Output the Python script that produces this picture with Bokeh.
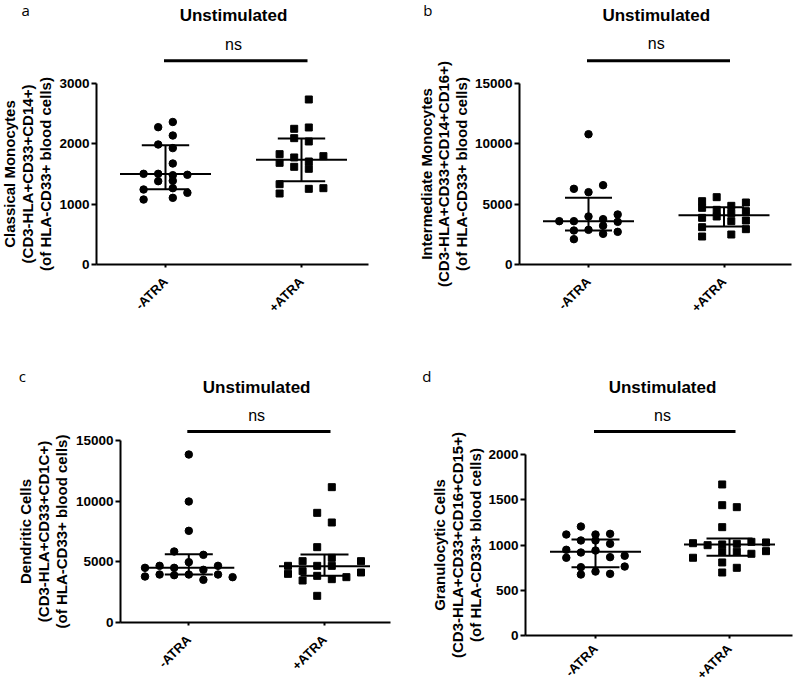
import math
from bokeh.plotting import figure
from bokeh.layouts import column, row
from bokeh.models import Range1d, FixedTicker
from bokeh.core.properties import value
from bokeh.embed import file_html
from bokeh.resources import INLINE

# ---------------- data ----------------
categories = ["-ATRA", "+ATRA"]
title_text = "Unstimulated"
sig_text = "ns"
panel_letters = ["a", "b", "c", "d"]

y_label_a = "Classical Monocytes\n(CD3-HLA+CD33+CD14+)\n(of HLA-CD33+ blood cells)"
y_label_b = "Intermediate Monocytes\n(CD3-HLA+CD33+CD14+CD16+)\n(of HLA-CD33+ blood cells)"
y_label_c = "Dendritic Cells\n(CD3-HLA+CD33+CD1C+)\n(of HLA-CD33+ blood cells)"
y_label_d = "Granulocytic Cells\n(CD3-HLA+CD33+CD16+CD15+)\n(of HLA-CD33+ blood cells)"

y_ticks_a = [0, 1000, 2000, 3000]
y_ticks_b = [0, 5000, 10000, 15000]
y_ticks_c = [0, 5000, 10000, 15000]
y_ticks_d = [0, 500, 1000, 1500, 2000]

# panel a: classical monocytes
a_minus = [2276, 2362, 2138, 1989, 1929, 1674, 1503, 1503, 1480, 1487, 1381, 1387, 1243, 1265, 1188, 1077, 1105]
a_minus_slot = [-0.5, 0.5, 0.5, -0.5, 0.5, 0.5, -1.5, -0.5, 0.5, 1.5, -0.5, 0.5, -1.5, 0.5, 1.5, -1.5, 0.5]
a_plus = [2735, 2249, 2271, 2094, 2039, 1829, 1774, 1796, 1685, 1619, 1707, 1586, 1331, 1177, 1254, 1265]
a_plus_slot = [0.5, -0.5, 0.5, -0.5, 0.5, -1.5, -0.5, 1.5, -1.5, -0.5, 0.5, 0.5, -1.5, -1.5, 0.5, 1.5]
a_median = [1500, 1735]
a_q1 = [1249, 1380]
a_q3 = [1978, 2090]

# panel b: intermediate monocytes
b_minus = [10798, 6271, 5994, 6575, 3591, 3591, 3978, 3757, 4144, 3536, 2818, 2873, 3204, 2541, 2707, 2100]
b_minus_slot = [0, -1, 0, 1, -2, -1, 0, 1, 2, 2, -1, 0, 1, 1, 2, -1]
b_plus = [5248, 5580, 4862, 5138, 4696, 4530, 4254, 4420, 3867, 3978, 3591, 3646, 3093, 2928, 2320, 2486]
b_plus_slot = [-1.5, -0.5, 0.5, 1.5, -1.5, -0.5, 0.5, 1.5, -1.5, -0.5, 0.5, 1.5, -1.5, 1.5, -1.5, 0.5]
b_median = [3591, 4088]
b_q1 = [2818, 3149]
b_q3 = [5525, 4751]

# panel c: dendritic cells
c_minus = [13846, 9973, 7555, 5852, 5577, 4973, 4505, 4670, 4505, 4340, 4670, 3791, 3956, 3901, 3956, 3516, 3956, 3736]
c_minus_slot = [0, 0, 0, -1, 1, 0, -3, -2, -1, 1, 2, -3, -2, -1, 0, 1, 2, 3]
c_plus = [11154, 9038, 8242, 6209, 5055, 5330, 5055, 4670, 4670, 4670, 4010, 4230, 3462, 3846, 3571, 3736, 4121, 2198]
c_plus_slot = [0.5, -0.5, 0.5, -0.5, -1.5, 0.5, 2.5, -2.5, -0.5, 0.5, -2.5, -1.5, -1.5, -0.5, 0.5, 1.5, 2.5, -0.5]
c_median = [4505, 4643]
c_q1 = [3956, 3846]
c_q3 = [5632, 5604]

# panel d: granulocytic cells
d_minus = [1204, 1116, 1116, 1123, 1050, 1050, 1013, 947, 917, 939, 859, 866, 881, 755, 762, 674, 707, 681]
d_minus_slot = [-1, -2, 0, 1, -1, 0, 1, -2, -1, 0, -2, 1, 2, -1, 2, -1, 0, 1]
d_plus = [1669, 1440, 1418, 1197, 1020, 998, 1006, 1013, 1035, 1028, 925, 925, 903, 932, 859, 807, 748, 696]
d_plus_slot = [-0.5, -0.5, 0.5, -0.5, -2.5, -1.5, -0.5, 0.5, 1.5, 2.5, -0.5, 0.5, 1.5, 2.5, -2.5, -0.5, 0.5, -0.5]
d_median = [925, 1006]
d_q1 = [755, 881]
d_q3 = [1061, 1072]

# ---------------- layout (page pixels) ----------------
LAYOUT = {
    "a": dict(fig=(0, 0, 400, 341), frame_x=(96, 368), y_px=(264, 83), cat_px=(165, 301),
              letter_px=(21, 9), title_base=15, ns_base=43.5, bar_y=60.3, ylab_x=27,
              caps=(23.7, 23.7), xlab_standoff=12),
    "b": dict(fig=(400, 0, 399, 341), frame_x=(519, 791), y_px=(264, 83), cat_px=(588, 723.5),
              letter_px=(422.7, 9), title_base=14.5, ns_base=43, bar_y=60.3, ylab_x=443.5,
              caps=(23.5, 20), xlab_standoff=12),
    "c": dict(fig=(0, 341, 400, 341), frame_x=(120, 390), y_px=(622, 440), cat_px=(188.3, 324),
              letter_px=(18.3, 375.5), title_base=386.5, ns_base=415, bar_y=431, ylab_x=42.7,
              caps=(24, 24), xlab_standoff=12),
    "d": dict(fig=(400, 341, 399, 341), frame_x=(525, 792), y_px=(635, 454), cat_px=(595, 729),
              letter_px=(421.7, 375.5), title_base=386.5, ns_base=415, bar_y=431, ylab_x=457.3,
              caps=(24, 23), xlab_standoff=8),
}

FONT = "Liberation Sans"
SLOT_PX = 14.6
MED_HALF_PX = 45.5


def make_panel(key, letter, ylabel, yticks, minus, minus_slot, plus, plus_slot, med, q1, q3):
    L = LAYOUT[key]
    fx, fy, fw, fh = L["fig"]
    left, right = L["frame_x"]
    y0, ytop = L["y_px"]
    c1, c2 = L["cat_px"]
    ymax = yticks[-1]
    ux = c2 - c1
    uy = (y0 - ytop) / ymax

    def dx(px):
        return 1 + (px - c1) / ux

    def dy(py):
        return (y0 - py) / uy

    p = figure(width=fw, height=fh, output_backend="svg", toolbar_location=None,
               x_range=Range1d(dx(fx), dx(fx + fw)), y_range=Range1d(dy(fy + fh), dy(fy)),
               min_border_left=0, min_border_right=0, min_border_top=0, min_border_bottom=0)
    p.outline_line_color = None
    p.grid.visible = False
    p.background_fill_color = "white"
    p.border_fill_color = "white"

    # axes drawn at fixed data locations
    p.yaxis.fixed_location = dx(left)
    p.xaxis.fixed_location = 0
    p.yaxis.ticker = FixedTicker(ticks=yticks)
    p.yaxis.bounds = (0, ymax)
    p.xaxis.ticker = FixedTicker(ticks=[1, 2])
    p.xaxis.bounds = (dx(left), dx(right))
    p.xaxis.major_label_overrides = {1: categories[0], 2: categories[1]}
    p.xaxis.major_label_orientation = math.pi / 4
    for ax in (p.xaxis, p.yaxis):
        ax.axis_line_width = 2
        ax.axis_line_color = "black"
        ax.major_tick_line_width = 2
        ax.major_tick_line_color = "black"
        ax.major_tick_in = 0
        ax.minor_tick_line_color = None
        ax.major_label_text_font = FONT
        ax.major_label_text_font_style = "bold"
        ax.major_label_text_color = "black"
    p.yaxis.major_tick_out = 5
    p.yaxis.major_label_standoff = 2
    p.yaxis.major_label_text_font_size = "13.5px"
    p.xaxis.major_tick_out = 3
    p.xaxis.major_label_standoff = L["xlab_standoff"]
    p.xaxis.major_label_text_font_size = "13px"

    # points
    step = SLOT_PX / ux
    p.scatter([1 + s * step for s in minus_slot], minus, marker="circle", size=7.5,
              fill_color="black", line_color="black")
    p.scatter([2 + s * step for s in plus_slot], plus, marker="square", size=7,
              fill_color="black", line_color="black")

    # median with interquartile range
    cats = [1, 2]
    mh = MED_HALF_PX / ux
    caps = [c / ux for c in L["caps"]]
    x0s, x1s, ys0, ys1 = [], [], [], []
    for i, c in enumerate(cats):
        x0s += [c - mh, c - caps[i], c - caps[i], c]
        x1s += [c + mh, c + caps[i], c + caps[i], c]
        ys0 += [med[i], q1[i], q3[i], q1[i]]
        ys1 += [med[i], q1[i], q3[i], q3[i]]
    p.segment(x0s, ys0, x1s, ys1, line_color="black", line_width=2)

    # significance bar, ns, title
    p.line([dx(c1 - 1.5), dx(c2 + 6)], [dy(L["bar_y"])] * 2, line_color="black", line_width=3)
    p.text(x=[1.5], y=[dy(L["ns_base"])], text=[sig_text], text_font=value(FONT),
           text_font_size="16px", text_align="center", text_baseline="alphabetic", text_color="black")
    p.text(x=[1.5], y=[dy(L["title_base"])], text=[title_text], text_font=value(FONT),
           text_font_size="17px", text_font_style="bold", text_align="center",
           text_baseline="alphabetic", text_color="black")

    # panel letter and y-axis title
    lx, ly = L["letter_px"]
    p.text(x=[dx(lx)], y=[dy(ly)], text=[letter], text_font=value("Open Sans"),
           text_font_size="15px", text_align="left", text_baseline="alphabetic", text_color="black")
    p.text(x=[dx(L["ylab_x"])], y=[ymax / 2], text=[ylabel], angle=math.pi / 2,
           text_font=value(FONT), text_font_style="bold", text_font_size="15px",
           text_align="center", text_baseline="middle", text_line_height=1.05, text_color="black")
    return p


pa = make_panel("a", panel_letters[0], y_label_a, y_ticks_a, a_minus, a_minus_slot, a_plus, a_plus_slot,
                a_median, a_q1, a_q3)
pb = make_panel("b", panel_letters[1], y_label_b, y_ticks_b, b_minus, b_minus_slot, b_plus, b_plus_slot,
                b_median, b_q1, b_q3)
pc = make_panel("c", panel_letters[2], y_label_c, y_ticks_c, c_minus, c_minus_slot, c_plus, c_plus_slot,
                c_median, c_q1, c_q3)
pd = make_panel("d", panel_letters[3], y_label_d, y_ticks_d, d_minus, d_minus_slot, d_plus, d_plus_slot,
                d_median, d_q1, d_q3)

layout = column(row(pa, pb), row(pc, pd))
open("out.html", "w").write(file_html(layout, INLINE))
